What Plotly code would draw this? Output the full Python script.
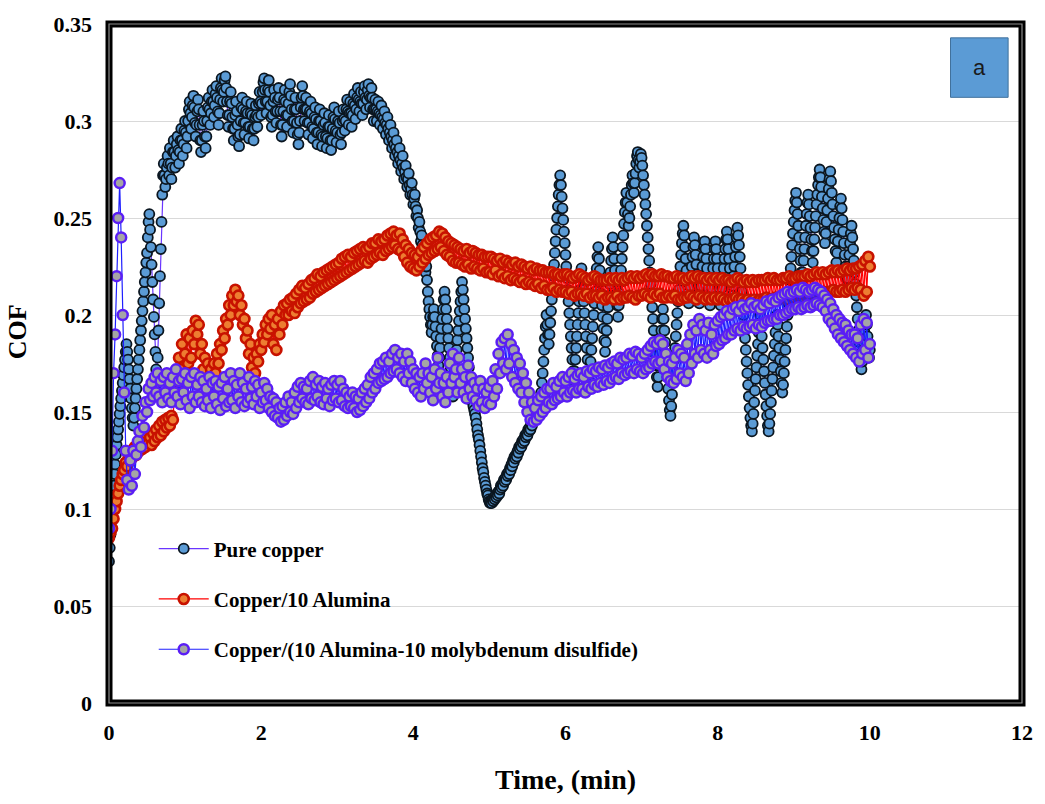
import plotly.graph_objects as go

# Logging intervals (minutes): the pure copper run was sampled twice as often
STEP_PURE_COPPER = 0.01
STEP_COMPOSITES = 0.02

# Coefficient of friction for pure copper, t = 0 ... 10 min, 10 samples (0.1 min) per row
cof_pure_copper = [
    0.073, 0.08, 0.087, 0.094, 0.10, 0.106, 0.112, 0.118, 0.123, 0.128,
    0.133, 0.137, 0.141, 0.145, 0.149, 0.153, 0.157, 0.161, 0.165, 0.169,
    0.173, 0.177, 0.181, 0.185, 0.181, 0.177, 0.172, 0.167, 0.162, 0.157,
    0.152, 0.147, 0.143, 0.147, 0.152, 0.157, 0.162, 0.167, 0.172, 0.177,
    0.182, 0.187, 0.192, 0.197, 0.202, 0.207, 0.212, 0.217, 0.222, 0.227,
    0.232, 0.24, 0.248, 0.252, 0.244, 0.235, 0.226, 0.217, 0.208, 0.199,
    0.19, 0.181, 0.172, 0.165, 0.178, 0.192, 0.206, 0.22, 0.234, 0.248,
    0.262, 0.272, 0.278, 0.272, 0.266, 0.27, 0.276, 0.282, 0.278, 0.272,
    0.286, 0.278, 0.27, 0.276, 0.284, 0.29, 0.284, 0.276, 0.282, 0.288,
    0.292, 0.285, 0.278, 0.284, 0.29, 0.296, 0.29, 0.282, 0.288, 0.295,
    0.30, 0.294, 0.286, 0.292, 0.30, 0.306, 0.31, 0.304, 0.296, 0.302,
    0.308, 0.313, 0.307, 0.299, 0.292, 0.298, 0.305, 0.311, 0.306, 0.298,
    0.29, 0.284, 0.29, 0.298, 0.305, 0.30, 0.292, 0.286, 0.292, 0.30,
    0.307, 0.312, 0.306, 0.298, 0.304, 0.31, 0.316, 0.31, 0.302, 0.308,
    0.314, 0.318, 0.312, 0.305, 0.298, 0.304, 0.311, 0.317, 0.322, 0.316,
    0.31, 0.315, 0.321, 0.323, 0.317, 0.31, 0.303, 0.297, 0.303, 0.31,
    0.315, 0.309, 0.302, 0.296, 0.29, 0.296, 0.303, 0.31, 0.305, 0.298,
    0.292, 0.287, 0.293, 0.30, 0.307, 0.312, 0.306, 0.299, 0.293, 0.299,
    0.305, 0.31, 0.304, 0.297, 0.291, 0.297, 0.304, 0.309, 0.303, 0.296,
    0.29, 0.296, 0.302, 0.308, 0.303, 0.297, 0.302, 0.309, 0.315, 0.31,
    0.303, 0.309, 0.315, 0.32, 0.322, 0.316, 0.31, 0.304, 0.31, 0.316,
    0.321, 0.315, 0.308, 0.302, 0.297, 0.303, 0.31, 0.316, 0.312, 0.305,
    0.299, 0.305, 0.311, 0.317, 0.312, 0.305, 0.298, 0.292, 0.298, 0.305,
    0.311, 0.316, 0.31, 0.303, 0.297, 0.303, 0.309, 0.315, 0.319, 0.313,
    0.306, 0.30, 0.294, 0.30, 0.306, 0.312, 0.306, 0.299, 0.293, 0.288,
    0.294, 0.30, 0.307, 0.312, 0.318, 0.313, 0.306, 0.30, 0.306, 0.312,
    0.306, 0.299, 0.293, 0.299, 0.305, 0.31, 0.304, 0.297, 0.291, 0.296,
    0.302, 0.307, 0.301, 0.294, 0.288, 0.294, 0.30, 0.306, 0.30, 0.293,
    0.287, 0.292, 0.298, 0.304, 0.299, 0.292, 0.286, 0.291, 0.297, 0.303,
    0.297, 0.29, 0.285, 0.29, 0.296, 0.302, 0.307, 0.301, 0.295, 0.289,
    0.294, 0.30, 0.305, 0.299, 0.293, 0.288, 0.294, 0.30, 0.306, 0.301,
    0.295, 0.30, 0.306, 0.311, 0.305, 0.298, 0.304, 0.31, 0.304, 0.297,
    0.303, 0.309, 0.314, 0.308, 0.301, 0.306, 0.312, 0.317, 0.311, 0.305,
    0.31, 0.315, 0.309, 0.303, 0.309, 0.315, 0.318, 0.312, 0.306, 0.311,
    0.316, 0.319, 0.313, 0.307, 0.312, 0.317, 0.312, 0.306, 0.30, 0.306,
    0.311, 0.306, 0.30, 0.305, 0.31, 0.304, 0.298, 0.303, 0.308, 0.302,
    0.296, 0.301, 0.305, 0.299, 0.293, 0.298, 0.302, 0.296, 0.29, 0.294,
    0.298, 0.292, 0.286, 0.29, 0.294, 0.288, 0.282, 0.286, 0.29, 0.284,
    0.278, 0.282, 0.286, 0.28, 0.274, 0.278, 0.282, 0.276, 0.27, 0.274,
    0.277, 0.271, 0.266, 0.27, 0.273, 0.267, 0.262, 0.265, 0.268, 0.262,
    0.257, 0.26, 0.262, 0.256, 0.251, 0.254, 0.25, 0.245, 0.248, 0.243,
    0.238, 0.241, 0.236, 0.231, 0.234, 0.228, 0.222, 0.225, 0.218, 0.212,
    0.207, 0.203, 0.199, 0.195, 0.191, 0.195, 0.199, 0.203, 0.199, 0.194,
    0.189, 0.184, 0.179, 0.174, 0.178, 0.183, 0.188, 0.193, 0.198, 0.203,
    0.208, 0.212, 0.208, 0.203, 0.198, 0.193, 0.188, 0.183, 0.178, 0.173,
    0.168, 0.163, 0.158, 0.162, 0.167, 0.172, 0.177, 0.182, 0.187, 0.192,
    0.197, 0.202, 0.207, 0.212, 0.217, 0.213, 0.208, 0.203, 0.198, 0.193,
    0.188, 0.183, 0.178, 0.173, 0.168, 0.164, 0.16, 0.157, 0.155, 0.153,
    0.151, 0.149, 0.147, 0.144, 0.141, 0.138, 0.136, 0.133, 0.13, 0.127,
    0.124, 0.121, 0.119, 0.116, 0.114, 0.112, 0.11, 0.108, 0.107, 0.105,
    0.104, 0.103, 0.104, 0.103, 0.105, 0.104, 0.106, 0.105, 0.107, 0.106,
    0.108, 0.107, 0.109, 0.108, 0.11, 0.112, 0.111, 0.113, 0.112, 0.115,
    0.114, 0.116, 0.115, 0.118, 0.117, 0.119, 0.118, 0.121, 0.12, 0.123,
    0.122, 0.125, 0.124, 0.127, 0.126, 0.128, 0.127, 0.13, 0.129, 0.132,
    0.131, 0.133, 0.132, 0.135, 0.134, 0.136, 0.135, 0.138, 0.137, 0.139,
    0.138, 0.141, 0.14, 0.142, 0.141, 0.144, 0.143, 0.146, 0.145, 0.148,
    0.147, 0.15, 0.149, 0.152, 0.151, 0.154, 0.153, 0.156, 0.16, 0.165,
    0.17, 0.176, 0.182, 0.188, 0.194, 0.20, 0.195, 0.19, 0.185, 0.19,
    0.196, 0.202, 0.208, 0.214, 0.22, 0.226, 0.232, 0.238, 0.244, 0.25,
    0.256, 0.262, 0.267, 0.272, 0.267, 0.261, 0.255, 0.249, 0.243, 0.237,
    0.231, 0.225, 0.219, 0.213, 0.207, 0.201, 0.195, 0.189, 0.183, 0.177,
    0.171, 0.166, 0.171, 0.177, 0.183, 0.189, 0.195, 0.201, 0.207, 0.213,
    0.219, 0.224, 0.219, 0.213, 0.207, 0.201, 0.195, 0.189, 0.183, 0.177,
    0.171, 0.166, 0.17, 0.176, 0.182, 0.188, 0.194, 0.20, 0.206, 0.212,
    0.218, 0.224, 0.23, 0.235, 0.229, 0.223, 0.217, 0.211, 0.205, 0.199,
    0.193, 0.187, 0.181, 0.186, 0.192, 0.198, 0.204, 0.21, 0.216, 0.222,
    0.228, 0.234, 0.24, 0.235, 0.229, 0.223, 0.217, 0.211, 0.205, 0.199,
    0.205, 0.211, 0.217, 0.223, 0.229, 0.235, 0.241, 0.247, 0.253, 0.258,
    0.263, 0.258, 0.252, 0.246, 0.25, 0.256, 0.262, 0.267, 0.272, 0.268,
    0.263, 0.268, 0.273, 0.278, 0.282, 0.284, 0.28, 0.276, 0.279, 0.283,
    0.281, 0.277, 0.272, 0.267, 0.262, 0.257, 0.252, 0.246, 0.24, 0.234,
    0.228, 0.222, 0.216, 0.21, 0.204, 0.198, 0.192, 0.186, 0.18, 0.174,
    0.168, 0.163, 0.168, 0.174, 0.18, 0.186, 0.192, 0.198, 0.203, 0.198,
    0.192, 0.186, 0.18, 0.174, 0.168, 0.162, 0.156, 0.151, 0.148, 0.153,
    0.159, 0.165, 0.171, 0.177, 0.183, 0.189, 0.195, 0.201, 0.207, 0.213,
    0.219, 0.225, 0.231, 0.237, 0.242, 0.246, 0.241, 0.235, 0.229, 0.223,
    0.217, 0.211, 0.206, 0.21, 0.215, 0.22, 0.225, 0.23, 0.235, 0.24,
    0.236, 0.231, 0.226, 0.221, 0.216, 0.211, 0.206, 0.21, 0.215, 0.22,
    0.225, 0.23, 0.235, 0.238, 0.234, 0.229, 0.224, 0.219, 0.214, 0.209,
    0.205, 0.209, 0.214, 0.219, 0.224, 0.229, 0.234, 0.238, 0.234, 0.229,
    0.224, 0.219, 0.214, 0.209, 0.205, 0.209, 0.214, 0.219, 0.224, 0.229,
    0.234, 0.239, 0.243, 0.239, 0.234, 0.229, 0.224, 0.219, 0.214, 0.21,
    0.215, 0.22, 0.225, 0.23, 0.235, 0.24, 0.245, 0.241, 0.236, 0.23,
    0.224, 0.218, 0.212, 0.206, 0.20, 0.194, 0.188, 0.182, 0.176, 0.17,
    0.164, 0.158, 0.152, 0.147, 0.143, 0.14, 0.144, 0.149, 0.155, 0.161,
    0.167, 0.173, 0.179, 0.185, 0.191, 0.196, 0.20, 0.195, 0.189, 0.183,
    0.177, 0.171, 0.165, 0.159, 0.153, 0.148, 0.143, 0.14, 0.144, 0.149,
    0.155, 0.161, 0.167, 0.173, 0.179, 0.185, 0.191, 0.196, 0.20, 0.195,
    0.189, 0.183, 0.177, 0.171, 0.165, 0.16, 0.164, 0.17, 0.176, 0.182,
    0.188, 0.194, 0.20, 0.206, 0.212, 0.218, 0.224, 0.23, 0.236, 0.242,
    0.248, 0.254, 0.259, 0.263, 0.258, 0.252, 0.246, 0.24, 0.234, 0.228,
    0.222, 0.217, 0.222, 0.228, 0.234, 0.24, 0.246, 0.252, 0.258, 0.262,
    0.257, 0.251, 0.245, 0.239, 0.233, 0.227, 0.233, 0.239, 0.245, 0.251,
    0.257, 0.262, 0.267, 0.271, 0.275, 0.271, 0.266, 0.261, 0.255, 0.249,
    0.243, 0.237, 0.242, 0.248, 0.254, 0.26, 0.265, 0.27, 0.274, 0.269,
    0.263, 0.257, 0.251, 0.245, 0.239, 0.233, 0.227, 0.232, 0.238, 0.244,
    0.25, 0.256, 0.26, 0.255, 0.249, 0.243, 0.237, 0.231, 0.225, 0.219,
    0.214, 0.219, 0.225, 0.231, 0.237, 0.242, 0.246, 0.24, 0.234, 0.228,
    0.222, 0.216, 0.21, 0.204, 0.198, 0.192, 0.186, 0.18, 0.175, 0.172,
    0.176, 0.181, 0.186, 0.191, 0.196, 0.20, 0.195, 0.189, 0.183, 0.178,
    0.182,
]

# Composite runs, t = 0 ... 10 min, 10 samples (0.2 min) per row
cof_cu_alumina = [
    0.085, 0.088, 0.09, 0.095, 0.10, 0.104, 0.108, 0.112, 0.115, 0.118,
    0.12, 0.124, 0.122, 0.127, 0.125, 0.13, 0.127, 0.132, 0.128, 0.133,
    0.13, 0.135, 0.131, 0.136, 0.132, 0.138, 0.134, 0.137, 0.133, 0.139,
    0.135, 0.141, 0.137, 0.143, 0.138, 0.145, 0.14, 0.146, 0.142, 0.147,
    0.143, 0.148, 0.146, 0.16, 0.17, 0.165, 0.178, 0.172, 0.185, 0.168,
    0.18, 0.19, 0.175, 0.188, 0.178, 0.192, 0.185, 0.197, 0.19, 0.195,
    0.18, 0.185, 0.172, 0.178, 0.166, 0.175, 0.168, 0.172, 0.165, 0.175,
    0.17, 0.18, 0.175, 0.185, 0.182, 0.192, 0.188, 0.198, 0.195, 0.205,
    0.20, 0.21, 0.205, 0.213, 0.207, 0.21, 0.20, 0.205, 0.195, 0.198,
    0.188, 0.192, 0.18, 0.185, 0.173, 0.178, 0.17, 0.18, 0.176, 0.185,
    0.182, 0.19, 0.186, 0.195, 0.19, 0.198, 0.193, 0.20, 0.185, 0.195,
    0.182, 0.198, 0.19, 0.202, 0.195, 0.205, 0.20, 0.206, 0.20, 0.208,
    0.202, 0.209, 0.201, 0.211, 0.204, 0.213, 0.206, 0.215, 0.207, 0.214,
    0.208, 0.216, 0.209, 0.218, 0.211, 0.219, 0.212, 0.221, 0.213, 0.22,
    0.214, 0.222, 0.215, 0.223, 0.216, 0.224, 0.217, 0.225, 0.218, 0.226,
    0.219, 0.227, 0.22, 0.229, 0.221, 0.23, 0.222, 0.231, 0.223, 0.23,
    0.224, 0.232, 0.225, 0.233, 0.226, 0.234, 0.227, 0.235, 0.228, 0.234,
    0.227, 0.235, 0.229, 0.237, 0.23, 0.237, 0.231, 0.239, 0.232, 0.238,
    0.231, 0.239, 0.233, 0.241, 0.234, 0.242, 0.235, 0.243, 0.236, 0.241,
    0.234, 0.242, 0.233, 0.239, 0.23, 0.236, 0.227, 0.234, 0.225, 0.232,
    0.224, 0.231, 0.223, 0.23, 0.225, 0.233, 0.227, 0.235, 0.229, 0.237,
    0.231, 0.239, 0.232, 0.24, 0.233, 0.241, 0.234, 0.243, 0.235, 0.242,
    0.233, 0.24, 0.231, 0.238, 0.23, 0.237, 0.228, 0.236, 0.227, 0.235,
    0.227, 0.234, 0.226, 0.233, 0.225, 0.234, 0.226, 0.232, 0.224, 0.233,
    0.225, 0.232, 0.224, 0.231, 0.223, 0.231, 0.224, 0.23, 0.222, 0.23,
    0.222, 0.23, 0.221, 0.229, 0.223, 0.228, 0.22, 0.229, 0.221, 0.227,
    0.219, 0.228, 0.22, 0.227, 0.218, 0.226, 0.219, 0.227, 0.218, 0.225,
    0.217, 0.226, 0.218, 0.225, 0.216, 0.224, 0.217, 0.225, 0.216, 0.223,
    0.215, 0.224, 0.216, 0.223, 0.214, 0.223, 0.215, 0.222, 0.213, 0.222,
    0.213, 0.222, 0.214, 0.221, 0.212, 0.221, 0.213, 0.22, 0.212, 0.221,
    0.212, 0.221, 0.211, 0.22, 0.212, 0.219, 0.21, 0.22, 0.211, 0.221,
    0.211, 0.22, 0.21, 0.219, 0.211, 0.218, 0.209, 0.219, 0.21, 0.22,
    0.21, 0.219, 0.209, 0.218, 0.21, 0.218, 0.208, 0.218, 0.209, 0.219,
    0.209, 0.218, 0.208, 0.219, 0.21, 0.218, 0.208, 0.219, 0.209, 0.218,
    0.209, 0.219, 0.21, 0.22, 0.209, 0.219, 0.208, 0.22, 0.21, 0.219,
    0.21, 0.22, 0.211, 0.221, 0.21, 0.22, 0.209, 0.221, 0.211, 0.22,
    0.21, 0.22, 0.211, 0.221, 0.209, 0.22, 0.209, 0.22, 0.21, 0.219,
    0.209, 0.219, 0.21, 0.22, 0.208, 0.219, 0.208, 0.219, 0.209, 0.218,
    0.209, 0.219, 0.21, 0.22, 0.209, 0.219, 0.208, 0.22, 0.21, 0.219,
    0.209, 0.219, 0.208, 0.218, 0.209, 0.219, 0.208, 0.218, 0.209, 0.219,
    0.208, 0.218, 0.209, 0.219, 0.208, 0.218, 0.207, 0.218, 0.208, 0.217,
    0.208, 0.218, 0.209, 0.219, 0.208, 0.218, 0.208, 0.217, 0.207, 0.218,
    0.208, 0.217, 0.207, 0.218, 0.208, 0.217, 0.207, 0.218, 0.208, 0.218,
    0.208, 0.218, 0.209, 0.219, 0.208, 0.218, 0.208, 0.219, 0.209, 0.218,
    0.208, 0.218, 0.209, 0.219, 0.209, 0.219, 0.208, 0.22, 0.21, 0.219,
    0.209, 0.219, 0.21, 0.22, 0.21, 0.22, 0.209, 0.22, 0.21, 0.221,
    0.21, 0.22, 0.211, 0.221, 0.211, 0.222, 0.212, 0.221, 0.211, 0.222,
    0.211, 0.221, 0.212, 0.222, 0.212, 0.223, 0.213, 0.222, 0.212, 0.223,
    0.212, 0.222, 0.213, 0.223, 0.212, 0.224, 0.213, 0.223, 0.214, 0.224,
    0.213, 0.224, 0.214, 0.225, 0.213, 0.226, 0.21, 0.228, 0.212, 0.23,
    0.225,
]

cof_cu_alumina_mos2 = [
    0.09, 0.10, 0.13, 0.17, 0.19, 0.22, 0.25, 0.268, 0.24, 0.20,
    0.16, 0.13, 0.115, 0.11, 0.125, 0.112, 0.13, 0.118, 0.128, 0.135,
    0.14, 0.132, 0.148, 0.142, 0.155, 0.15, 0.162, 0.156, 0.165, 0.158,
    0.168, 0.16, 0.17, 0.158, 0.166, 0.155, 0.168, 0.16, 0.17, 0.157,
    0.165, 0.155, 0.168, 0.16, 0.172, 0.158, 0.166, 0.154, 0.167, 0.16,
    0.17, 0.156, 0.165, 0.152, 0.168, 0.158, 0.17, 0.155, 0.164, 0.158,
    0.168, 0.155, 0.166, 0.153, 0.162, 0.156, 0.168, 0.152, 0.165, 0.158,
    0.166, 0.154, 0.163, 0.151, 0.165, 0.157, 0.168, 0.153, 0.162, 0.155,
    0.17, 0.156, 0.166, 0.152, 0.164, 0.158, 0.17, 0.155, 0.165, 0.153,
    0.162, 0.155, 0.168, 0.157, 0.163, 0.154, 0.166, 0.158, 0.164, 0.152,
    0.16, 0.155, 0.165, 0.156, 0.162, 0.152, 0.158, 0.15, 0.157, 0.148,
    0.155, 0.147, 0.152, 0.145, 0.153, 0.146, 0.155, 0.148, 0.158, 0.15,
    0.155, 0.149, 0.16, 0.152, 0.163, 0.155, 0.165, 0.157, 0.163, 0.155,
    0.162, 0.154, 0.166, 0.157, 0.168, 0.156, 0.164, 0.158, 0.166, 0.155,
    0.163, 0.154, 0.165, 0.157, 0.162, 0.153, 0.164, 0.156, 0.166, 0.157,
    0.164, 0.155, 0.166, 0.156, 0.162, 0.153, 0.16, 0.152, 0.158, 0.153,
    0.16, 0.152, 0.158, 0.15, 0.157, 0.151, 0.16, 0.153, 0.162, 0.155,
    0.164, 0.157, 0.168, 0.16, 0.17, 0.162, 0.172, 0.165, 0.175, 0.166,
    0.176, 0.167, 0.178, 0.168, 0.176, 0.17, 0.18, 0.171, 0.182, 0.172,
    0.178, 0.17, 0.18, 0.168, 0.176, 0.166, 0.18, 0.17, 0.176, 0.165,
    0.172, 0.162, 0.17, 0.16, 0.168, 0.158, 0.17, 0.162, 0.175, 0.165,
    0.17, 0.16, 0.168, 0.156, 0.172, 0.162, 0.178, 0.165, 0.17, 0.158,
    0.165, 0.155, 0.168, 0.16, 0.175, 0.165, 0.18, 0.168, 0.172, 0.16,
    0.178, 0.165, 0.172, 0.16, 0.168, 0.157, 0.174, 0.162, 0.168, 0.158,
    0.165, 0.156, 0.162, 0.153, 0.166, 0.155, 0.162, 0.152, 0.16, 0.155,
    0.163, 0.154, 0.166, 0.158, 0.172, 0.162, 0.18, 0.17, 0.186, 0.175,
    0.188, 0.172, 0.19, 0.175, 0.185, 0.168, 0.182, 0.165, 0.178, 0.162,
    0.175, 0.16, 0.17, 0.155, 0.165, 0.15, 0.16, 0.146, 0.155, 0.145,
    0.152, 0.146, 0.156, 0.148, 0.158, 0.15, 0.16, 0.152, 0.162, 0.155,
    0.162, 0.154, 0.165, 0.156, 0.163, 0.157, 0.166, 0.158, 0.168, 0.16,
    0.166, 0.158, 0.168, 0.16, 0.17, 0.161, 0.167, 0.16, 0.169, 0.162,
    0.17, 0.162, 0.168, 0.16, 0.171, 0.163, 0.17, 0.162, 0.172, 0.164,
    0.171, 0.163, 0.173, 0.165, 0.172, 0.164, 0.174, 0.166, 0.173, 0.165,
    0.175, 0.167, 0.176, 0.168, 0.175, 0.167, 0.178, 0.17, 0.177, 0.169,
    0.178, 0.17, 0.18, 0.171, 0.179, 0.17, 0.181, 0.172, 0.18, 0.171,
    0.178, 0.17, 0.18, 0.172, 0.182, 0.173, 0.184, 0.175, 0.186, 0.176,
    0.185, 0.175, 0.187, 0.176, 0.185, 0.172, 0.18, 0.168, 0.176, 0.166,
    0.175, 0.165, 0.178, 0.167, 0.182, 0.17, 0.18, 0.168, 0.178, 0.166,
    0.185, 0.17, 0.19, 0.175, 0.195, 0.18, 0.192, 0.178, 0.198, 0.182,
    0.195, 0.18, 0.192, 0.178, 0.196, 0.182, 0.19, 0.18, 0.195, 0.184,
    0.197, 0.185, 0.199, 0.187, 0.20, 0.188, 0.202, 0.19, 0.20, 0.19,
    0.203, 0.192, 0.204, 0.193, 0.202, 0.192, 0.205, 0.194, 0.203, 0.193,
    0.204, 0.194, 0.206, 0.195, 0.204, 0.193, 0.205, 0.195, 0.203, 0.194,
    0.205, 0.196, 0.207, 0.197, 0.206, 0.197, 0.208, 0.198, 0.207, 0.198,
    0.209, 0.20, 0.21, 0.20, 0.211, 0.201, 0.212, 0.202, 0.211, 0.203,
    0.212, 0.203, 0.213, 0.204, 0.212, 0.203, 0.214, 0.204, 0.213, 0.205,
    0.212, 0.204, 0.213, 0.205, 0.214, 0.206, 0.213, 0.205, 0.212, 0.204,
    0.21, 0.202, 0.208, 0.198, 0.206, 0.196, 0.203, 0.193, 0.20, 0.19,
    0.198, 0.188, 0.196, 0.186, 0.195, 0.184, 0.192, 0.182, 0.19, 0.18,
    0.19, 0.178, 0.188, 0.176, 0.195, 0.18, 0.198, 0.182, 0.196, 0.178,
    0.185,
]

series_names = [
    "Pure copper",
    "Copper/10 Alumina",
    "Copper/(10 Alumina-10 molybdenum disulfide)",
]

x_tick_values = [0, 2, 4, 6, 8, 10, 12]
y_tick_values = [0, 0.05, 0.1, 0.15, 0.2, 0.25, 0.3, 0.35]
y_tick_labels = ["0", "0.05", "0.1", "0.15", "0.2", "0.25", "0.3", "0.35"]

SERIF = "Liberation Serif, Times New Roman, serif"

styles = [
    dict(line="#6A35FF", fill="#5B9BD5", edge="#0B1620", edge_w=1.8),
    dict(line="#FF0000", fill="#ED7D31", edge="#C81200", edge_w=2.6),
    dict(line="#1F1FFF", fill="#A5A5A5", edge="#5A1EF5", edge_w=2.5),
]
series = [
    (cof_pure_copper, STEP_PURE_COPPER),
    (cof_cu_alumina, STEP_COMPOSITES),
    (cof_cu_alumina_mos2, STEP_COMPOSITES),
]

fig = go.Figure()
for name, (values, step), st in zip(series_names, series, styles):
    t = [round(i * step, 4) for i in range(len(values))]
    fig.add_trace(go.Scatter(
        x=t, y=values, name=name, mode="lines+markers",
        legendgroup=name,
        line=dict(color=st["line"], width=1.2),
        marker=dict(size=10, color=st["fill"],
                    line=dict(color=st["edge"], width=st["edge_w"])),
    ))

fig.update_layout(
    width=1045, height=804,
    margin=dict(l=109, r=17, t=17, b=101),
    paper_bgcolor="white", plot_bgcolor="white",
    showlegend=True,
    legend=dict(
        x=0.049, y=0.257, xanchor="left", yanchor="top",
        bgcolor="rgba(0,0,0,0)",
        font=dict(family=SERIF, size=21, color="black", weight="bold"),
        tracegroupgap=20, itemwidth=50,
    ),
    xaxis=dict(
        range=[0, 12], tickvals=x_tick_values, ticks="",
        showgrid=False, zeroline=False, showline=False,
        tickfont=dict(family=SERIF, size=22, color="black", weight="bold"),
        ticklabelstandoff=14,
    ),
    yaxis=dict(
        range=[0, 0.35], tickvals=y_tick_values, ticktext=y_tick_labels,
        ticks="", showgrid=True, gridcolor="#D9D9D9", gridwidth=1,
        zeroline=False, showline=False,
        tickfont=dict(family=SERIF, size=22, color="black", weight="bold"),
        ticklabelstandoff=16,
    ),
    annotations=[
        dict(text="<b>Time, (min)</b>", xref="paper", yref="paper",
             x=0.5, y=-0.112, xanchor="center", yanchor="middle",
             showarrow=False, font=dict(family=SERIF, size=28, color="black")),
        dict(text="<b>COF</b>", xref="paper", yref="paper",
             x=-0.1, y=0.547, xanchor="center", yanchor="middle",
             textangle=-90, showarrow=False,
             font=dict(family=SERIF, size=26, color="black")),
        dict(text="a", xref="paper", yref="paper",
             x=0.9533, y=0.9358, xanchor="center", yanchor="middle",
             showarrow=False,
             font=dict(family="Liberation Sans, Arial, sans-serif", size=22,
                       color="#1A1A1A")),
    ],
    shapes=[
        # panel label box
        dict(type="rect", xref="paper", yref="paper",
             x0=0.9217, x1=0.9848, y0=0.892, y1=0.9796,
             fillcolor="#5B9BD5", line=dict(color="#41719C", width=1)),
        # heavy plot frame
        dict(type="rect", xref="paper", yref="paper",
             x0=0, x1=1, y0=0, y1=1,
             line=dict(color="black", width=7), layer="above"),
        dict(type="rect", xref="paper", yref="paper",
             x0=0, x1=1, y0=0, y1=1,
             line=dict(color="#8C8C8C", width=1.2), layer="above"),
    ],
)

fig.write_html("out.html")
